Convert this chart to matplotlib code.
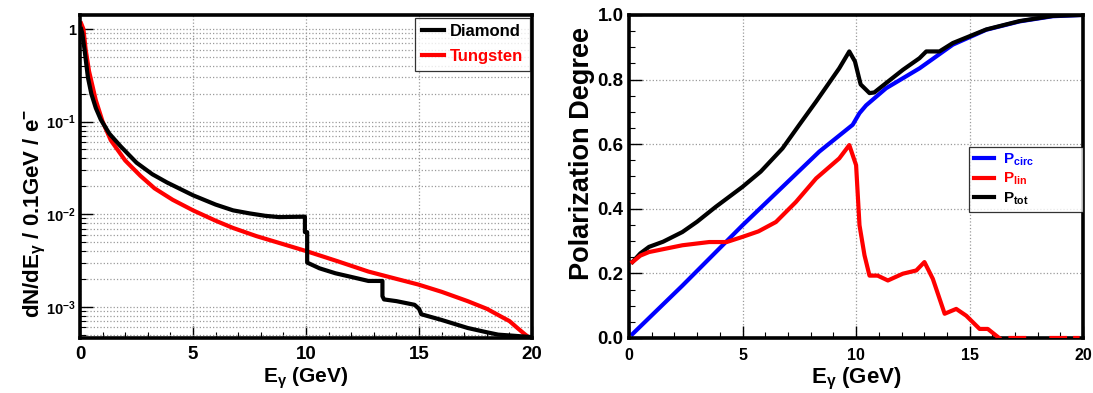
"""
Photon spectrum (diamond vs tungsten) and polarization degree vs photon energy.
"""

import matplotlib
matplotlib.use('Agg')

import matplotlib.pyplot as plt
import matplotlib.ticker as mticker
import numpy as np

plt.rcParams['font.family'] = ['Liberation Sans', 'DejaVu Sans']
plt.rcParams['font.weight'] = 'bold'
plt.rcParams['mathtext.fontset'] = 'custom'
plt.rcParams['mathtext.rm'] = 'Liberation Sans:bold'
plt.rcParams['mathtext.bf'] = 'Liberation Sans:bold'
plt.rcParams['mathtext.it'] = 'Liberation Sans:bold'
plt.rcParams['mathtext.default'] = 'bf'

# --- left panel: dN/dE per 0.1 GeV per electron ---
diamond_e = [0.05, 0.1, 0.2, 0.35, 0.5, 0.7, 0.92, 1.3, 1.8, 2.5, 3.2, 3.85,
             5.0, 6.0, 6.77, 7.5, 8.2, 8.8, 9.95, 9.95, 10.05, 10.05, 10.6,
             11.3, 12.0, 12.76, 13.38, 13.38, 13.45, 14.0, 14.8, 15.0, 15.1,
             16.0, 17.15, 18.0, 18.5, 19.5, 20.0]
diamond_n = [1.0, 0.9, 0.6, 0.3, 0.2, 0.14, 0.105, 0.074, 0.054, 0.036, 0.027,
             0.022, 0.016, 0.0127, 0.011, 0.0102, 0.0096, 0.0093, 0.0094,
             0.0064, 0.0064, 0.0030, 0.0026, 0.0023, 0.0021, 0.0019, 0.0019,
             0.0013, 0.0012, 0.00115, 0.00105, 0.00095, 0.00083, 0.00072,
             0.00059, 0.00053, 0.0005, 0.00048, 0.00047]

tungsten_e = [0.05, 0.15, 0.25, 0.4, 0.7, 1.0, 1.36, 2.0, 2.67, 3.3, 4.1, 5.0,
              6.0, 6.77, 7.8, 8.8, 10.0, 11.4, 12.76, 14.0, 14.96, 16.0,
              17.15, 18.0, 18.6, 19.0, 19.35, 19.7, 19.95]
tungsten_n = [1.15, 1.0, 0.6, 0.35, 0.17, 0.1, 0.063, 0.038, 0.026, 0.019,
              0.0143, 0.011, 0.0085, 0.0071, 0.0058, 0.0049, 0.0040, 0.0031,
              0.0024, 0.0020, 0.00174, 0.00145, 0.00115, 0.00095, 0.00079,
              0.0007, 0.00059, 0.0005, 0.00045]

# --- right panel: polarization degree ---
circ_e = [0.15, 2.35, 5.0, 8.38, 9.85, 10.15, 10.44, 11.32, 12.8, 14.26,
          15.73, 17.2, 18.66, 20.0]
circ_p = [0.012, 0.162, 0.349, 0.577, 0.66, 0.696, 0.72, 0.773, 0.835, 0.908,
          0.954, 0.98, 0.996, 1.0]

tot_e = [0.15, 0.5, 0.88, 1.5, 2.35, 3.0, 3.82, 5.0, 5.8, 6.76, 7.5, 8.24,
         9.26, 9.7, 9.95, 10.2, 10.59, 10.8, 11.32, 12.06, 12.79, 13.09,
         13.67, 14.26, 15.73, 17.2, 18.66, 20.0]
tot_p = [0.235, 0.262, 0.282, 0.298, 0.328, 0.36, 0.406, 0.468, 0.515, 0.587,
         0.66, 0.732, 0.835, 0.887, 0.856, 0.785, 0.758, 0.76, 0.789, 0.83,
         0.866, 0.887, 0.887, 0.913, 0.955, 0.981, 0.997, 1.0]

# gaps (nan) where P_lin sits on zero only now and then
lin_e = [0.15, 0.5, 0.88, 2.35, 3.53, 4.3, 5.0, 5.7, 6.47, 7.35, 8.24, 9.26,
         9.7, 10.0, 10.15, 10.37, 10.59, 10.95, 11.4, 12.06, 12.65, 13.01,
         13.38, 13.9, 14.41, 14.85, 15.44, 15.8, 16.3, 16.5, 16.8, 17.4,
         17.5, 18.6, 19.2, 19.3, 19.65, 19.75]
lin_p = [0.235, 0.255, 0.266, 0.287, 0.297, 0.297, 0.313, 0.33, 0.359, 0.421,
         0.494, 0.556, 0.597, 0.535, 0.349, 0.256, 0.193, 0.193, 0.178, 0.199,
         0.209, 0.235, 0.183, 0.075, 0.09, 0.069, 0.028, 0.028, 0.0, np.nan,
         0.0, 0.0, np.nan, 0.0, 0.0, np.nan, 0.0, 0.0]

LW = 3.0
GRID = dict(color='#9a9a9a', linestyle=':', linewidth=0.9)


def _frame(ax):
    for side in ax.spines.values():
        side.set_linewidth(2.6)
    ax.tick_params(which='both', direction='in', top=False, right=False)
    ax.tick_params(which='major', length=9, width=1.0)
    ax.tick_params(which='minor', length=4.5, width=0.8)
    ax.set_xlim(0, 20)
    ax.xaxis.set_major_locator(mticker.MultipleLocator(5))
    ax.xaxis.set_minor_locator(mticker.MultipleLocator(1))
    ax.xaxis.set_major_formatter(mticker.FormatStrFormatter('%d'))


fig = plt.figure(figsize=(10.93, 3.93), dpi=100)
ax1 = fig.add_axes([0.0732, 0.14, 0.4136, 0.822])
ax2 = fig.add_axes([0.5755, 0.14, 0.4155, 0.822])

# ---------------- left ----------------
_frame(ax1)
ax1.set_yscale('log')
ax1.set_ylim(4.6e-4, 1.42)
ax1.yaxis.set_major_locator(mticker.FixedLocator([1e-3, 1e-2, 1e-1, 1]))
ax1.yaxis.set_major_formatter(mticker.FixedFormatter(
    [r'$10^{-3}$', r'$10^{-2}$', r'$10^{-1}$', '1']))
ax1.yaxis.set_minor_locator(mticker.LogLocator(base=10, subs=np.arange(2, 10)))
ax1.yaxis.set_minor_formatter(mticker.NullFormatter())
ax1.grid(True, which='both', axis='y', **GRID)
ax1.grid(True, which='major', axis='x', **GRID)
ax1.set_axisbelow(True)

l_w, = ax1.plot(tungsten_e, tungsten_n, color='#ff0000', lw=LW, label='Tungsten')
l_d, = ax1.plot(diamond_e, diamond_n, color='black', lw=LW, label='Diamond')

ax1.tick_params(axis='x', labelsize=13.5, pad=6)
ax1.tick_params(axis='y', labelsize=10.5, pad=3)
ax1.set_xlabel(r'E$_{\gamma}$ (GeV)', fontsize=15, fontweight='bold')
ax1.xaxis.set_label_coords(0.5, -0.085)
ax1.set_ylabel(r'dN/dE$_{\gamma}$ / 0.1GeV / e$^{-}$', fontsize=16,
               fontweight='bold')
ax1.yaxis.set_label_coords(-0.071, 0.385)

leg1 = ax1.legend(handles=[l_d, l_w], loc='upper right',
                  bbox_to_anchor=(0.996, 0.992), borderaxespad=0,
                  fontsize=12, frameon=True, fancybox=False,
                  edgecolor='black', handlelength=1.3, handletextpad=0.4,
                  labelspacing=0.6, borderpad=0.4, labelcolor='linecolor')
leg1.get_frame().set_linewidth(0.9)
for t in leg1.get_texts():
    t.set_fontweight('bold')

# ---------------- right ----------------
_frame(ax2)
ax2.set_ylim(0, 1.0)
ax2.yaxis.set_major_locator(mticker.MultipleLocator(0.2))
ax2.yaxis.set_minor_locator(mticker.MultipleLocator(0.05))
ax2.yaxis.set_major_formatter(mticker.FormatStrFormatter('%.1f'))
ax2.grid(True, which='major', **GRID)
ax2.set_axisbelow(True)

l_c, = ax2.plot(circ_e, circ_p, color='#0000ff', lw=LW,
                label=r'$\mathbf{P_{circ}}$')
l_t, = ax2.plot(tot_e, tot_p, color='black', lw=LW,
                label=r'$\mathbf{P_{tot}}$')
l_l, = ax2.plot(lin_e, lin_p, color='#ff0000', lw=LW, zorder=3,
                label=r'$\mathbf{P_{lin}}$')

ax2.tick_params(axis='x', labelsize=11.5, pad=7)
ax2.tick_params(axis='y', labelsize=13.5, pad=4)
ax2.set_xlabel(r'E$_{\gamma}$ (GeV)', fontsize=16, fontweight='bold')
ax2.xaxis.set_label_coords(0.5, -0.085)
ax2.set_ylabel('Polarization Degree', fontsize=19.5, fontweight='bold')
ax2.yaxis.set_label_coords(-0.076, 0.57)

leg2 = ax2.legend(handles=[l_c, l_l, l_t], loc='upper left',
                  bbox_to_anchor=(0.749, 0.387, 0.251, 0.204), mode='expand',
                  borderaxespad=0, fontsize=11, frameon=True, fancybox=False,
                  edgecolor='black', handlelength=1.3, handletextpad=0.6,
                  labelspacing=0.2, borderpad=0.3, labelcolor='linecolor')
leg2.get_frame().set_linewidth(0.9)

for lab in ax1.get_xticklabels() + ax1.get_yticklabels() + \
        ax2.get_xticklabels() + ax2.get_yticklabels():
    lab.set_fontweight('bold')

fig.savefig('out.png', dpi=100)
plt.close(fig)
